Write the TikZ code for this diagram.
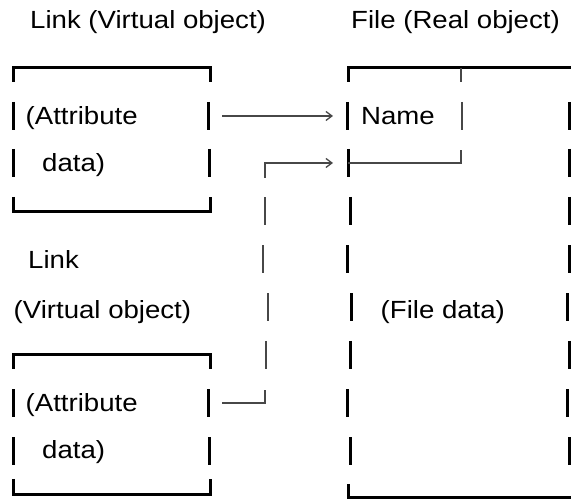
\documentclass[tikz,border=0pt]{standalone}
\usepackage{fontspec}
\setmainfont{Liberation Sans}
\usetikzlibrary{arrows.meta}
% slightly condensed vertical text
\newcommand\sq[1]{\scalebox{1}[0.9]{#1}}
% one row segment of a box side: style, x, row centre
\newcommand\rowbar[3]{\draw[#1] (#2,#3-14) -- (#2,#3+14);}
\begin{document}
\begin{tikzpicture}[x=1pt,y=-1pt,
  heavy/.style={line width=3pt,black,line join=miter},
  light/.style={line width=1.3pt,black!72},
  lbl/.style={anchor=base west,inner sep=0pt,font=\fontsize{27.6}{30}\selectfont},
  tip/.style={-{Straight Barb[length=6pt,width=9pt,line width=1.3pt]}}]
\useasboundingbox (0,0) rectangle (571,502);

% headings
\node[lbl] (linkhead) at (30,29) {\sq{Link (Virtual object)}};
\node[lbl] (filehead) at (351,29) {\sq{File (Real object)}};

% upper link box
\draw[heavy] (13,82) -- (13,68) -- (210,68) -- (210,82);
\rowbar{heavy}{13}{116} \rowbar{heavy}{208.5}{116}
\rowbar{heavy}{13}{163} \rowbar{heavy}{209}{163}
\draw[heavy] (13,197) -- (13,212) -- (210,212) -- (210,197);
\node[lbl] (attrA) at (25.5,125) {\sq{(Attribute}};
\node[lbl] (dataA) at (42,172) {\sq{data)}};

% second link heading
\node[lbl] (linkB) at (28,269) {\sq{Link}};
\node[lbl] (virtB) at (13.5,319) {\sq{(Virtual object)}};

% lower link box
\draw[heavy] (13,369) -- (13,355) -- (210,355) -- (210,369);
\rowbar{heavy}{13}{403.5} \rowbar{heavy}{208.5}{403.5}
\rowbar{heavy}{13}{451.5} \rowbar{heavy}{209}{451.5}
\draw[heavy] (13,479) -- (13,495) -- (210,495) -- (210,479);
\node[lbl] (attrB) at (25.5,412) {\sq{(Attribute}};
\node[lbl] (dataB) at (42,459) {\sq{data)}};

% file box
\draw[heavy] (348,82) -- (348,68) -- (571,68);
\draw[light] (461,68) -- (461,82);
\rowbar{heavy}{347}{116} \rowbar{heavy}{569.5}{116}
\rowbar{heavy}{348}{163} \rowbar{heavy}{569}{163}
\rowbar{heavy}{350}{211} \rowbar{heavy}{569}{211}
\rowbar{heavy}{347}{259.5} \rowbar{heavy}{569}{259.5}
\rowbar{heavy}{351}{307.5} \rowbar{heavy}{567.5}{307.5}
\rowbar{heavy}{350}{355} \rowbar{heavy}{569}{355}
\rowbar{heavy}{347}{403.5} \rowbar{heavy}{567.5}{403.5}
\rowbar{heavy}{350}{451.5} \rowbar{heavy}{569.5}{451.5}
\draw[heavy] (348,484) -- (348,497.5) -- (571,497.5);

% name field inside the file box
\rowbar{light}{462}{116}
\coordinate (nameL) at (348,163);
\coordinate (nameR) at (461,163);
\draw[light] (nameL) -- (nameR) -- (461,150);
\node[lbl] (name) at (361,125) {\sq{Name}};
\node[lbl] (filedata) at (380.5,319) {\sq{(File data)}};

% link pointers
\coordinate (p1s) at (222,116);
\coordinate (p1e) at (333,116);
\draw[light,tip] (p1s) -- (p1e);

\coordinate (p2s) at (222,403);
\coordinate (p2c) at (265,403);
\coordinate (p2e) at (333,163);
\draw[light] (p2s) -- (p2c) -- (265,390);
\rowbar{light}{266}{355}
\rowbar{light}{268}{307.5}
\rowbar{light}{263}{259.5}
\rowbar{light}{265}{211.5}
\draw[light,tip] (265,178) -- (265,163) -- (p2e);
\end{tikzpicture}
\end{document}
